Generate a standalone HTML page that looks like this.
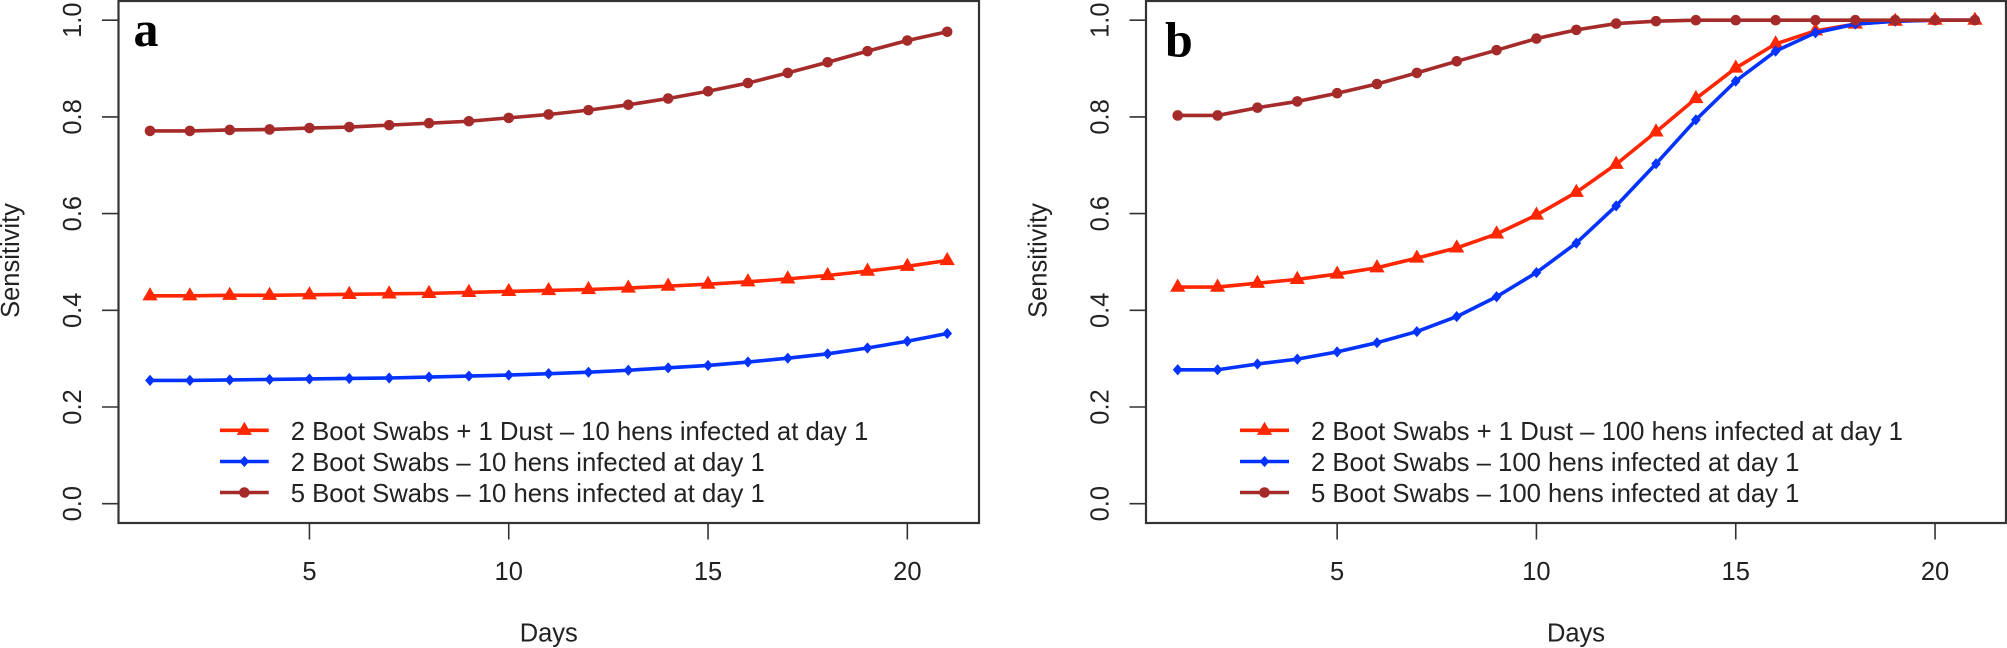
<!DOCTYPE html>
<html lang="en">
<head>
<meta charset="utf-8">
<title>Sensitivity over days</title>
<style>
html,body{margin:0;padding:0;background:#fff;width:2007px;height:648px;overflow:hidden}
svg{display:block;font-family:"Liberation Sans",Arial,sans-serif}
</style>
</head>
<body>
<svg id="figure" xmlns="http://www.w3.org/2000/svg" width="2007" height="648" viewBox="0 0 2007 648"></svg>
<script>
const days = [1,2,3,4,5,6,7,8,9,10,11,12,13,14,15,16,17,18,19,20,21];
const xTicks = [5,10,15,20];
const yTicks = [0,0.2,0.4,0.6,0.8,1.0];
const yTickLabels = ['0.0','0.2','0.4','0.6','0.8','1.0'];

const panelADust = [.430,.430,.431,.431,.432,.433,.434,.435,.437,.439,.441,.443,.446,.450,.454,.459,.465,.472,.481,.491,.503];
const panelABoot2 = [.255,.255,.256,.257,.258,.259,.260,.262,.264,.266,.269,.272,.276,.281,.286,.293,.301,.310,.322,.336,.352];
const panelABoot5 = [.771,.771,.773,.774,.777,.779,.783,.787,.791,.798,.805,.814,.825,.838,.853,.870,.891,.913,.936,.958,.976];

const panelBDust = [.448,.448,.456,.464,.475,.488,.508,.529,.558,.597,.644,.702,.769,.838,.901,.951,.978,.992,.998,1.0,1.0];
const panelBBoot2 = [.277,.277,.289,.299,.314,.333,.356,.387,.428,.478,.539,.616,.703,.794,.874,.936,.974,.992,.998,1.0,1.0];
const panelBBoot5 = [.803,.803,.819,.832,.849,.868,.891,.915,.938,.962,.980,.993,.998,1.0,1.0,1.0,1.0,1.0,1.0,1.0,1.0];

const panelALegend = ['2 Boot Swabs + 1 Dust – 10 hens infected at day 1','2 Boot Swabs – 10 hens infected at day 1','5 Boot Swabs – 10 hens infected at day 1'];
const panelBLegend = ['2 Boot Swabs + 1 Dust – 100 hens infected at day 1','2 Boot Swabs – 100 hens infected at day 1','5 Boot Swabs – 100 hens infected at day 1'];

const NS = 'http://www.w3.org/2000/svg';
const RED = '#ff2600', BLUE = '#0433ff', BROWN = '#a52a2a', INK = '#222';
const svg = document.getElementById('figure');

function make(parent, tag, attrs, text) {
  const n = document.createElementNS(NS, tag);
  for (const k in attrs) n.setAttribute(k, attrs[k]);
  if (text !== undefined) n.textContent = text;
  parent.appendChild(n);
  return n;
}

function drawMarker(parent, kind, x, y, color) {
  let m;
  if (kind === 'triangle') {
    m = make(parent, 'polygon', {points:[x,y-8.6,x+7.6,y+4.6,x-7.6,y+4.6].join(' '), fill:color});
  } else if (kind === 'diamond') {
    m = make(parent, 'polygon', {points:[x,y-5.6,x+4.9,y,x,y+5.6,x-4.9,y].join(' '), fill:color});
  } else {
    m = make(parent, 'circle', {cx:x, cy:y, r:5.3, fill:color});
  }
  
  
}

function drawPanel(cfg) {
  const g = make(svg, 'g', {});
  
  

  const xScale = d => cfg.x1 + (d - 1) * 39.86;
  const yScale = v => 503.7 - v * 483.5;

  const frame = make(g, 'rect', {x:cfg.left, y:1, width:cfg.right-cfg.left, height:522, fill:'none', stroke:'#333', 'stroke-width':2.2});
  
  

  yTicks.forEach((v, i) => {
    const y = yScale(v);
    const t = make(g, 'line', {x1:cfg.left-16.5, x2:cfg.left, y1:y, y2:y, stroke:'#333', 'stroke-width':1.6});
    
    
    const lx = cfg.left - 37.5;
    const lab = make(g, 'text', {x:lx, y:y, transform:'rotate(-90 '+lx+' '+y+')', 'text-anchor':'middle', 'font-size':25.5, fill:INK}, yTickLabels[i]);
    
    
  });

  xTicks.forEach(d => {
    const x = xScale(d);
    const t = make(g, 'line', {x1:x, x2:x, y1:523, y2:539.5, stroke:'#333', 'stroke-width':1.6});
    
    
    const lab = make(g, 'text', {x:x, y:580, 'text-anchor':'middle', 'font-size':25.5, fill:INK}, String(d));
    
    
  });

  const xt = make(g, 'text', {x:(cfg.left+cfg.right)/2, y:641.5, 'text-anchor':'middle', 'font-size':25.5, fill:INK}, 'Days');
  
  

  const yx = cfg.left - 99.3;
  const yt = make(g, 'text', {x:yx, y:260.5, transform:'rotate(-90 '+yx+' 260.5)', 'text-anchor':'middle', 'font-size':25.5, fill:INK}, 'Sensitivity');
  
  

  const letter = make(g, 'text', {x:cfg.letterX, y:cfg.letterY, 'font-size':50, 'font-weight':'bold', 'font-family':'"Liberation Serif",serif', fill:'#000'}, cfg.letter);
  
  

  cfg.series.forEach(s => {
    const sg = make(g, 'g', {});
    
    
    const pts = days.map((d, i) => xScale(d).toFixed(2) + ',' + yScale(s.values[i]).toFixed(2)).join(' ');
    const line = make(sg, 'polyline', {points:pts, fill:'none', stroke:s.color, 'stroke-width':3.6, 'stroke-linejoin':'round'});
    
    
    days.forEach((d, i) => drawMarker(sg, s.marker, xScale(d), yScale(s.values[i]), s.color));
  });

  const legend = make(g, 'g', {});
  
  
  const rowY = [430.3, 461.5, 492.5];
  cfg.series.forEach((s, i) => {
    const entry = make(legend, 'g', {});
    
    
    const ln = make(entry, 'line', {x1:cfg.legX1, x2:cfg.legX2, y1:rowY[i], y2:rowY[i], stroke:s.color, 'stroke-width':3.6});
    
    
    drawMarker(entry, s.marker, (cfg.legX1+cfg.legX2)/2, rowY[i], s.color);
    const tx = make(entry, 'text', {x:cfg.legText, y:rowY[i]+9.5, 'font-size':25.7, fill:INK}, cfg.legend[i]);
    
    
  });
}

drawPanel({
  id:'panel-a', letter:'a', letterX:133.5, letterY:46, left:118.5, right:979, x1:150,
  legX1:220, legX2:268.7, legText:290.7, legend:panelALegend,
  series:[
    {name:'dust-and-boot-swabs', values:panelADust, color:RED, marker:'triangle'},
    {name:'two-boot-swabs', values:panelABoot2, color:BLUE, marker:'diamond'},
    {name:'five-boot-swabs', values:panelABoot5, color:BROWN, marker:'circle'}
  ]
});
drawPanel({
  id:'panel-b', letter:'b', letterX:1165, letterY:56.5, left:1146, right:2006, x1:1177.7,
  legX1:1240, legX2:1289, legText:1311, legend:panelBLegend,
  series:[
    {name:'dust-and-boot-swabs', values:panelBDust, color:RED, marker:'triangle'},
    {name:'two-boot-swabs', values:panelBBoot2, color:BLUE, marker:'diamond'},
    {name:'five-boot-swabs', values:panelBBoot5, color:BROWN, marker:'circle'}
  ]
});
</script>
</body>
</html>
